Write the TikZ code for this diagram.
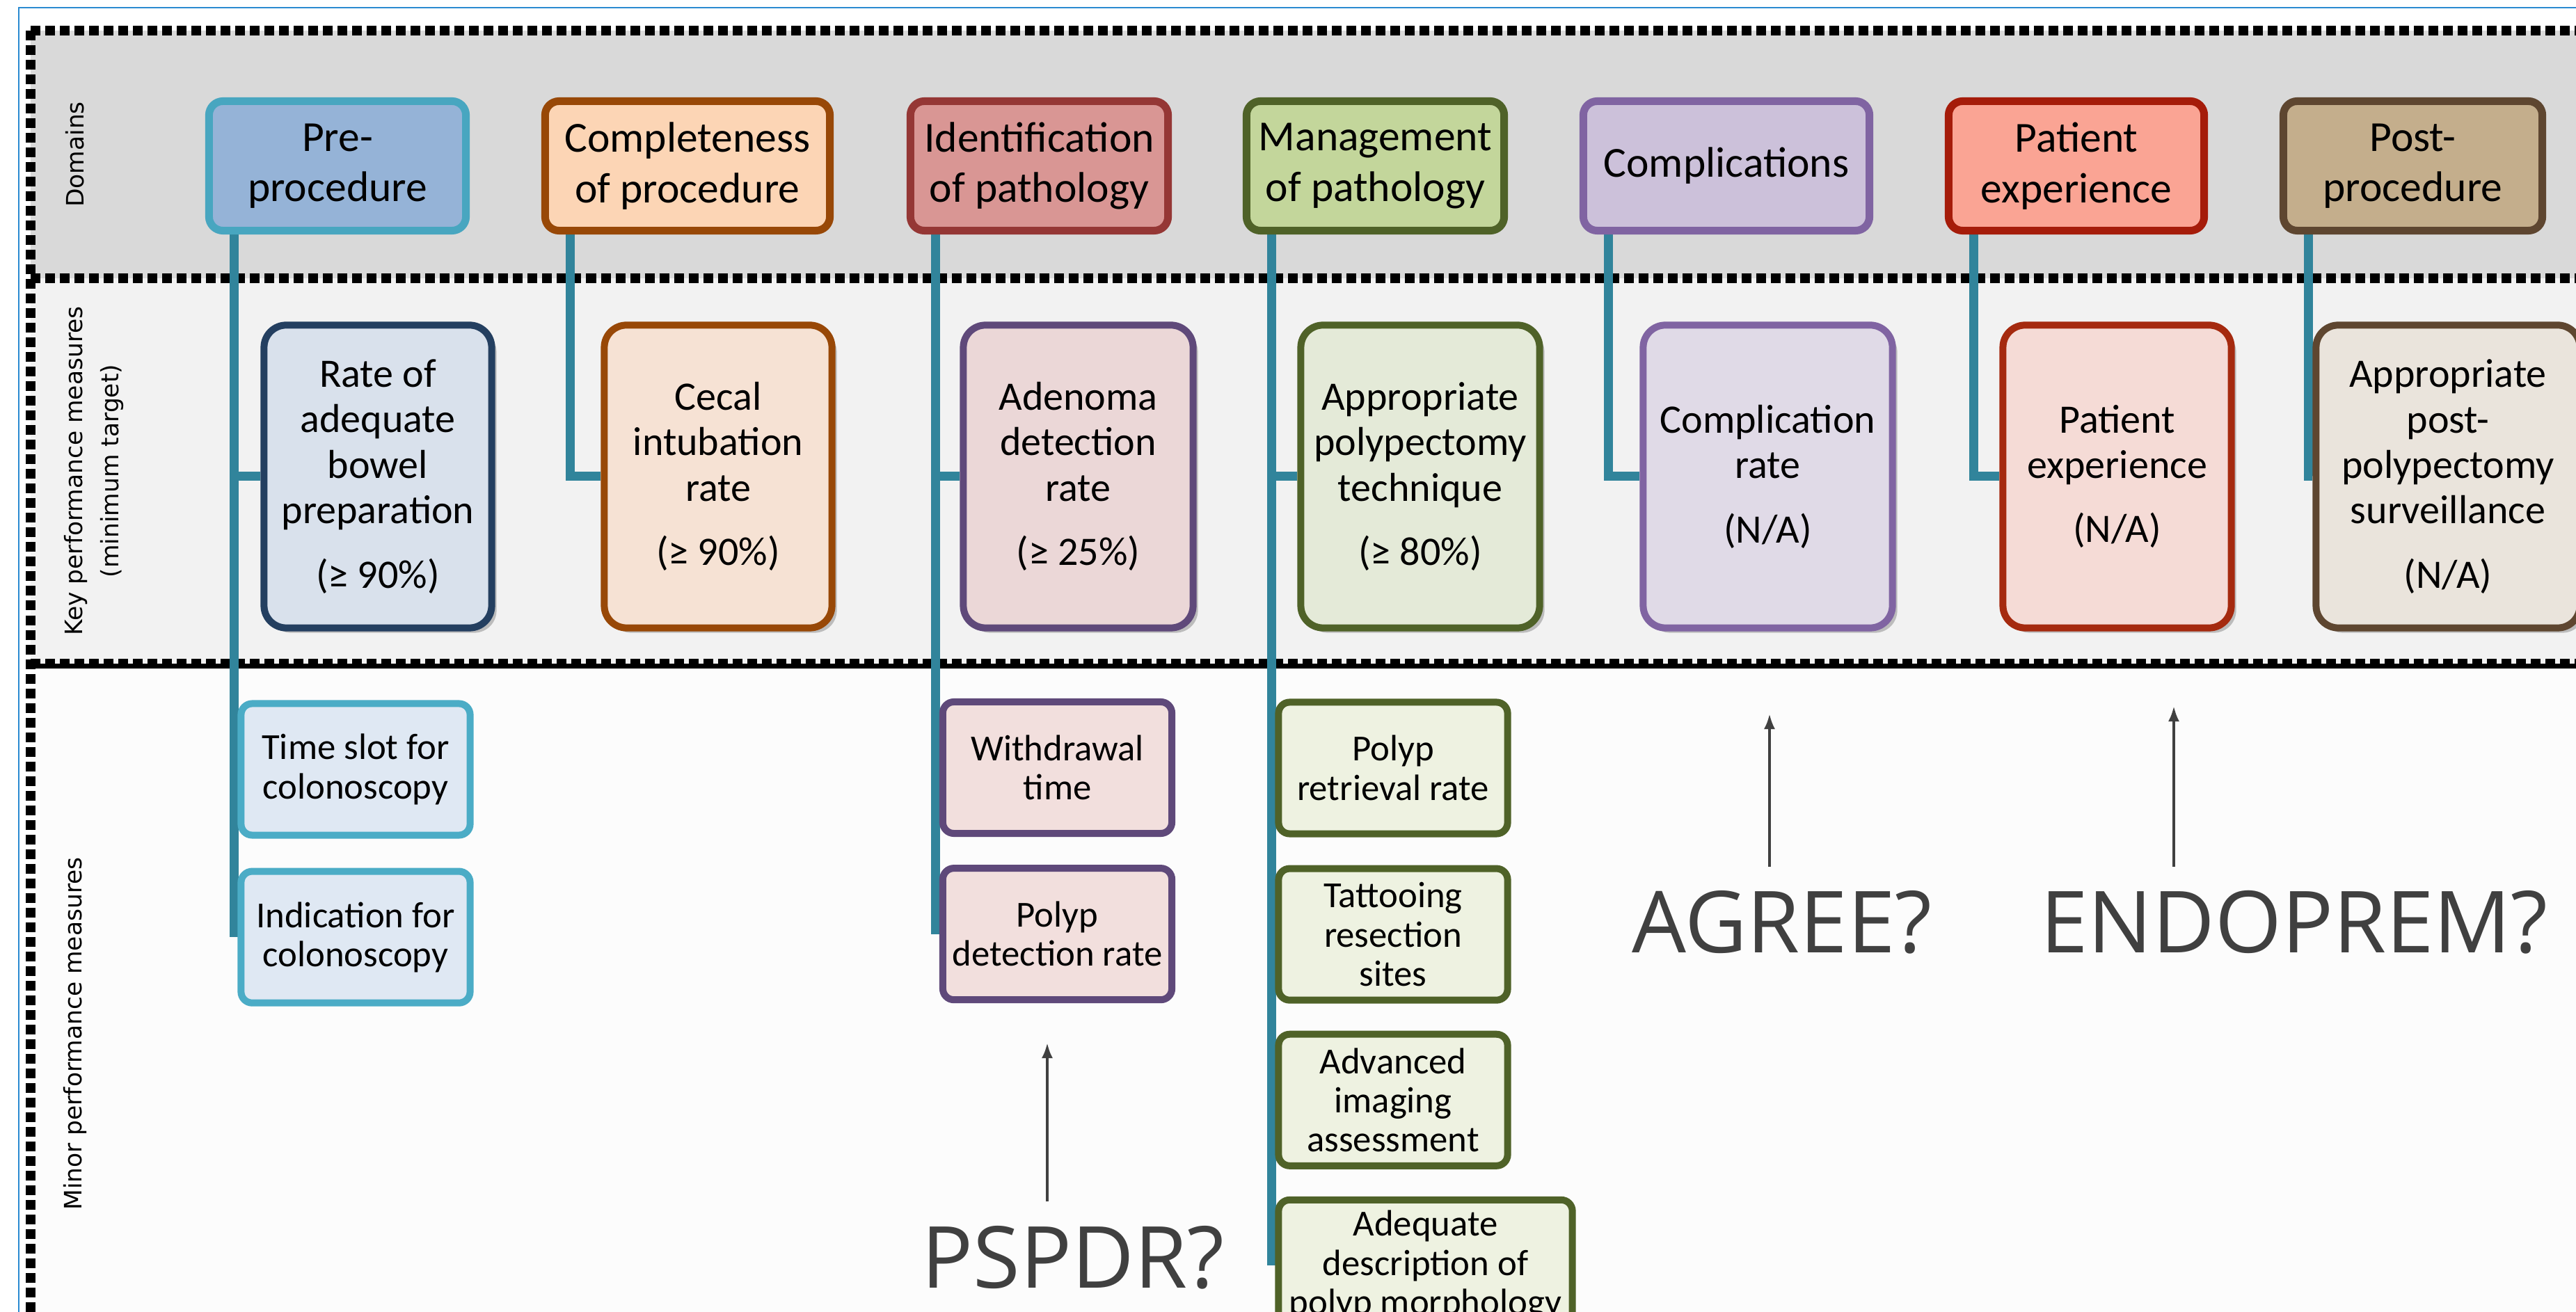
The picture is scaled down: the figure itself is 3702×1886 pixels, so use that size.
\documentclass[tikz,border=0pt]{standalone}
\usepackage{fontspec}
\setmainfont{Carlito}
\newfontfamily\sidefont{DejaVu Sans}
\newfontfamily\notefont{Open Sans}
\usetikzlibrary{positioning,shadows,arrows.meta}

\definecolor{preFill}{HTML}{95B3D7}   \definecolor{preLine}{HTML}{48A6C0}
\definecolor{compFill}{HTML}{FCD5B5}  \definecolor{compLine}{HTML}{984807}
\definecolor{identFill}{HTML}{D99694} \definecolor{identLine}{HTML}{953735}
\definecolor{mgmtFill}{HTML}{C3D69B}  \definecolor{mgmtLine}{HTML}{4F6228}
\definecolor{complFill}{HTML}{CCC1DA} \definecolor{complLine}{HTML}{8064A2}
\definecolor{patFill}{HTML}{FAA494}   \definecolor{patLine}{HTML}{A51C0A}
\definecolor{postFill}{HTML}{C4AE8C}  \definecolor{postLine}{HTML}{5E4630}
\definecolor{rateFill}{HTML}{D9E1EC}  \definecolor{rateLine}{HTML}{243F60}
\definecolor{cecalFill}{HTML}{F6E2D4}
\definecolor{adenFill}{HTML}{EBD7D7}  \definecolor{adenLine}{HTML}{5F497A}
\definecolor{polyFill}{HTML}{E4EAD8}
\definecolor{cratFill}{HTML}{E0DAE7}
\definecolor{pexpFill}{HTML}{F5DBD6}  \definecolor{pexpLine}{HTML}{A52A0F}
\definecolor{psurvFill}{HTML}{EAE4DC}
\definecolor{blueMinor}{HTML}{DFE8F3} \definecolor{blueMinorLine}{HTML}{4BACC6}
\definecolor{pinkMinor}{HTML}{F2DFDD}
\definecolor{greenMinor}{HTML}{EEF2E1}
\definecolor{linkCol}{HTML}{31849B}
\definecolor{noteGray}{HTML}{404040}
\definecolor{domBand}{HTML}{D9D9D9}
\definecolor{kpmBand}{HTML}{F2F2F2}
\definecolor{minBand}{HTML}{FCFCFC}
\definecolor{slideLine}{HTML}{2A8AD0}

\pgfdeclarelayer{back}
\pgfdeclarelayer{mid}
\pgfsetlayers{back,mid,main}

\tikzset{
    domainbox/.style={draw, rounded corners=0.2cm, line width=0.11cm, minimum height=1.86cm,
        align=center, inner sep=0pt, font=\fontsize{17.5}{20.6}\selectfont},
    kpmbox/.style={draw, rounded corners=0.32cm, line width=0.1cm, minimum height=4.35cm,
        align=center, inner sep=0pt, font=\fontsize{16.5}{18.6}\selectfont,
        drop shadow={shadow xshift=0.07cm, shadow yshift=-0.07cm, fill=black, opacity=0.22}},
    minorbox/.style={draw, rounded corners=0.16cm, line width=0.1cm, minimum width=3.29cm,
        minimum height=1.89cm, align=center, inner sep=0pt, font=\fontsize{15}{16}\selectfont},
    link/.style={line width=0.13cm, linkCol},
    sepline/.style={line width=0.14cm, dash pattern=on 0.14cm off 0.07cm},
    sidelabel/.style={font=\sidefont\fontsize{9.8}{15}\selectfont, rotate=90, align=center},
    note/.style={font=\notefont\fontsize{35}{40}\selectfont, text=noteGray, inner sep=0.34cm},
    pointer/.style={line width=0.04cm, noteGray, -{Latex[length=0.22cm,width=0.16cm]}}
}

\begin{document}
\begin{tikzpicture}[x=0.01cm,y=-0.01cm]
    \useasboundingbox (0,0) rectangle (3702,1886);

    % bands and frame
    \begin{pgfonlayer}{back}
        \fill[domBand] (44,44) rectangle (3710,400);
        \fill[kpmBand] (44,400) rectangle (3710,954);
        \fill[minBand] (44,954) rectangle (3710,1890);
        \draw[slideLine, line width=0.025cm] (27,1890) -- (27,11) -- (3710,11);
        \foreach \yy in {44,400,954} {
            \draw[sepline] (44,\yy) -- (3710,\yy);
        }
        \draw[line width=0.07cm] (44,958) -- (3710,958);
        \draw[sepline] (44,44) -- (44,1890);
    \end{pgfonlayer}

    \node[sidelabel] (domlab) at (108,222) {Domains};
    \node[sidelabel] (kpmlab) at (135,677) {Key performance measures\\(minimum target)};
    \node[sidelabel] (minlab) at (108,1486) {Minor performance measures};

    % domains
    \node[domainbox, minimum width=3.69cm, fill=preFill, draw=preLine] (pre) at (485,238.5) {Pre-\\procedure};
    \node[domainbox, minimum width=4.09cm, fill=compFill, draw=compLine] (comp) at (988,238.5) {Completeness\\of procedure};
    \node[domainbox, minimum width=3.70cm, fill=identFill, draw=identLine] (ident) at (1493.5,238.5) {Identification\\of pathology};
    \node[domainbox, minimum width=3.70cm, fill=mgmtFill, draw=mgmtLine] (mgmt) at (1976.5,238.5) {Management\\of pathology};
    \node[domainbox, minimum width=4.11cm, fill=complFill, draw=complLine] (compl) at (2481,238.5) {Complications};
    \node[domainbox, minimum width=3.67cm, fill=patFill, draw=patLine] (pat) at (2984,238.5) {Patient\\experience};
    \node[domainbox, minimum width=3.72cm, fill=postFill, draw=postLine] (post) at (3467.5,238.5) {Post-\\procedure};

    % key performance measures
    \node[kpmbox, minimum width=3.27cm, fill=rateFill, draw=rateLine] (rate) at (543,685)
        {Rate of\\adequate\\bowel\\preparation\\[0.27cm](≥ 90\%)};
    \node[kpmbox, minimum width=3.27cm, fill=cecalFill, draw=compLine] (cecal) at (1032,685)
        {Cecal\\intubation\\rate\\[0.27cm](≥ 90\%)};
    \node[kpmbox, minimum width=3.30cm, fill=adenFill, draw=adenLine] (aden) at (1549.5,685)
        {Adenoma\\detection\\rate\\[0.27cm](≥ 25\%)};
    \node[kpmbox, minimum width=3.43cm, fill=polyFill, draw=mgmtLine] (poly) at (2041,685)
        {Appropriate\\polypectomy\\technique\\[0.27cm](≥ 80\%)};
    \node[kpmbox, minimum width=3.58cm, fill=cratFill, draw=complLine] (crat) at (2540.5,685)
        {Complication\\rate\\[0.27cm](N/A)};
    \node[kpmbox, minimum width=3.28cm, fill=pexpFill, draw=pexpLine] (pexp) at (3042.5,685)
        {Patient\\experience\\[0.27cm](N/A)};
    \node[kpmbox, minimum width=3.79cm, fill=psurvFill, draw=postLine] (psurv) at (3518,685)
        {Appropriate\\post-\\polypectomy\\surveillance\\[0.27cm](N/A)};

    % minor performance measures
    \node[minorbox, fill=blueMinor, draw=blueMinorLine] (tslot) at (511,1106) {Time slot for\\colonoscopy};
    \node[minorbox, fill=blueMinor, draw=blueMinorLine, below=0.42cm of tslot] (indic) {Indication for\\colonoscopy};
    \node[minorbox, fill=pinkMinor, draw=adenLine] (wdraw) at (1519.5,1103.5) {Withdrawal\\time};
    \node[minorbox, fill=pinkMinor, draw=adenLine, below=0.40cm of wdraw] (pdet) {Polyp\\detection rate};
    \node[minorbox, fill=greenMinor, draw=mgmtLine] (retr) at (2002,1104) {Polyp\\retrieval rate};
    \node[minorbox, fill=greenMinor, draw=mgmtLine, below=0.40cm of retr] (tattoo) {Tattooing\\resection\\sites};
    \node[minorbox, fill=greenMinor, draw=mgmtLine, below=0.39cm of tattoo] (advimg) {Advanced\\imaging\\assessment};
    \node[minorbox, fill=greenMinor, draw=mgmtLine, minimum width=4.22cm,
        below=0.39cm of advimg.south west, anchor=north west] (adeq) {Adequate\\description of\\polyp morphology};

    % connectors
    \begin{pgfonlayer}{mid}
        \foreach \dom/\meas/\last in {pre/rate/indic, ident/aden/pdet, mgmt/poly/adeq} {
            \draw[link] (\dom.south west) ++(42,0) coordinate (\dom-line) -- (\dom-line |- \last.west);
            \draw[link] (\dom-line |- \meas.west) -- (\meas.west);
        }
        \foreach \dom/\meas in {comp/cecal, compl/crat, pat/pexp, post/psurv} {
            \draw[link] (\dom.south west) ++(42,0) |- (\meas.west);
        }
    \end{pgfonlayer}

    % questions
    \node[note, anchor=base] (pspdr) at (1542,1851) {PSPDR?};
    \node[note, anchor=base] (agree) at (2561,1370) {AGREE?};
    \node[note, anchor=base] (endoprem) at (3297,1370) {ENDOPREM?};
    \coordinate (pspdrtip) at (1505,1499);
    \coordinate (agreetip) at (2543,1026);
    \coordinate (endotip) at (3124,1015);
    \draw[pointer] (pspdr.north -| pspdrtip) -- (pspdrtip);
    \draw[pointer] (agree.north -| agreetip) -- (agreetip);
    \draw[pointer] (endoprem.north -| endotip) -- (endotip);
\end{tikzpicture}
\end{document}
